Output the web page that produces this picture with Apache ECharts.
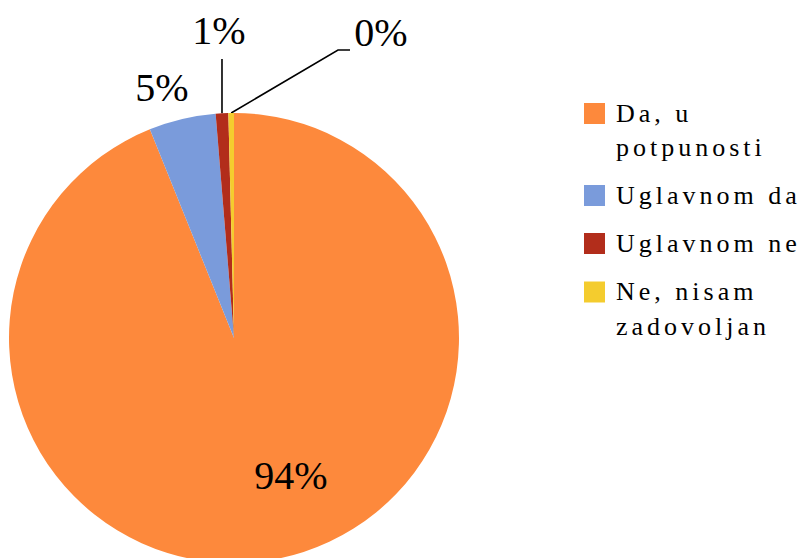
<!DOCTYPE html>
<html>
<head>
<meta charset="utf-8">
<script src="https://cdn.jsdelivr.net/npm/echarts@6/dist/echarts.min.js"></script>
<style>
  html, body { margin: 0; padding: 0; background: #fff; }
  #chart { width: 808px; height: 558px; }
  /* legend text in the reference is widely tracked */
  #chart text[style*="26px"] { letter-spacing: 4px; }
</style>
</head>
<body>
<div id="chart"></div>
<script>
const categories = ['Da, u potpunosti', 'Uglavnom da', 'Uglavnom ne', 'Ne, nisam zadovoljan']
const values = [93.9, 4.8, 0.9, 0.4]
const colors = ['#FD893C', '#7A9BDB', '#B22D1B', '#F4CC2E']

const chart = echarts.init(document.getElementById('chart'), null, { renderer: 'svg' })

const lineH = 34
const legendFont = { fontFamily: 'Liberation Serif', fontSize: 26, color: '#000' }

// greedy word wrap of legend names
function wrapName (name, maxChars) {
  const lines = []
  name.split(' ').forEach(w => {
    const last = lines[lines.length - 1]
    if (last && (last + ' ' + w).length <= maxChars) lines[lines.length - 1] = last + ' ' + w
    else lines.push(w)
  })
  return lines
}

const option = {
  animation: false,
  color: colors,
  legend: {
    orient: 'vertical',
    left: 584,
    top: 100,
    padding: 0,
    itemWidth: 21,
    itemHeight: 21,
    itemGap: 22,
    icon: 'rect',
    data: categories,
    // first line gets a double line height and the rest almost none,
    // so the square stays level with the first line
    formatter: name => wrapName(name, 12)
      .map((l, i) => '{' + (i === 0 ? 'first' : 'rest') + '|' + l + '}')
      .join('\n'),
    textStyle: {
      ...legendFont,
      padding: [0, 0, 0, 6],
      rich: {
        first: { ...legendFont, lineHeight: lineH * 2 },
        rest: { ...legendFont, lineHeight: 1 }
      }
    }
  },
  series: [
    {
      type: 'pie',
      center: [234, 338],
      radius: 225,
      startAngle: 90,
      clockwise: true,
      percentPrecision: 0,
      avoidLabelOverlap: false,
      itemStyle: { borderWidth: 0 },
      label: {
        formatter: '{d}%',
        fontFamily: 'Liberation Serif',
        fontSize: 40,
        color: '#000'
      },
      labelLine: {
        show: true,
        lineStyle: { color: '#000', width: 1.6 }
      },
      labelLayout: function (params) {
        const p = params.labelLinePoints
        switch (params.dataIndex) {
          case 0:
            return { dx: 35, dy: 24 }
          case 1:
            return { x: 162, y: 87, align: 'center', verticalAlign: 'middle' }
          case 2:
            return {
              x: 219, y: 30, align: 'center', verticalAlign: 'middle',
              labelLinePoints: p ? [p[0], [p[0][0], 59], [p[0][0], 59]] : undefined
            }
          case 3:
            return {
              x: 381, y: 32, align: 'center', verticalAlign: 'middle',
              labelLinePoints: p ? [p[0], [338, 50], [350, 50]] : undefined
            }
        }
      },
      data: categories.map((name, i) => {
        const item = { name: name, value: values[i] }
        if (i === 0) {
          item.label = { position: 'inside' }
          item.labelLine = { show: false }
        }
        if (i === 1) {
          item.labelLine = { show: false }
        }
        return item
      })
    }
  ]
}

chart.setOption(option)
</script>
</body>
</html>
